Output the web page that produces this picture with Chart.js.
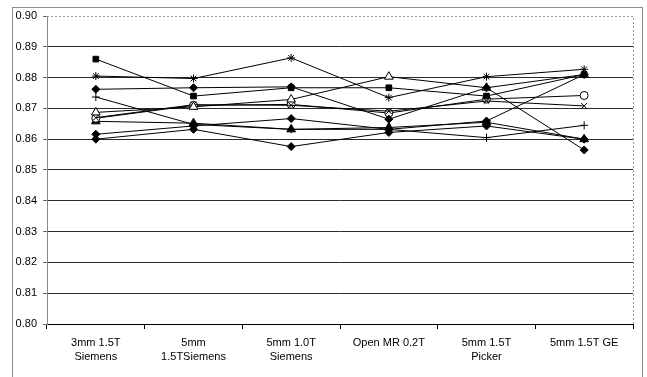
<!DOCTYPE html>
<html>
<head>
<meta charset="utf-8">
<script src="https://cdn.jsdelivr.net/npm/chart.js@4.4.1/dist/chart.umd.min.js"></script>
<style>
  body { margin: 0; background: #fff; }
  #frame { position: absolute; left: 12px; top: 7px; width: 629px; height: 400px; border: 1px solid #8c8c8c; }
  #myChart { position: absolute; left: 0; top: 0; }
</style>
</head>
<body>
<div id="frame"></div>
<canvas id="myChart" width="647" height="377"></canvas>
<script>
// categorias (scanners)
const scanners = [
  ['3mm 1.5T', 'Siemens'],
  ['5mm', '1.5TSiemens'],
  ['5mm 1.0T', 'Siemens'],
  'Open MR 0.2T',
  ['5mm 1.5T', 'Picker'],
  '5mm 1.5T GE'
];

// valores
const diamondA   = [0.8762, 0.8767, 0.8770, 0.8665, 0.8767, 0.8565];
const squareS    = [0.8860, 0.8740, 0.8767, 0.8767, 0.8740, 0.8810];
const triOpen    = [0.8687, 0.8705, 0.8729, 0.8803, 0.8767, 0.8810];
const crossX     = [0.8670, 0.8712, 0.8710, 0.8691, 0.8724, 0.8708];
const starS      = [0.8805, 0.8797, 0.8864, 0.8735, 0.8803, 0.8827];
const circleOpen = [0.8668, 0.8710, 0.8713, 0.8685, 0.8730, 0.8742];
const plusS      = [0.8737, 0.8648, 0.8632, 0.8632, 0.8605, 0.8645];
const triFilled  = [0.8658, 0.8652, 0.8632, 0.8638, 0.8655, 0.8600];
const diamondB   = [0.8616, 0.8643, 0.8667, 0.8632, 0.8659, 0.8810];
const diamondC   = [0.8600, 0.8632, 0.8576, 0.8622, 0.8643, 0.8600];

const yMin = 0.80;
const yMax = 0.90;

function serie(data, style, hollow, radius) {
  return {
    data: data,
    borderColor: '#000',
    borderWidth: 1,
    pointStyle: style,
    pointRadius: radius || 4,
    pointBorderColor: '#000',
    pointBorderWidth: 1,
    pointBackgroundColor: hollow ? '#fff' : '#000',
    fill: false,
    tension: 0
  };
}

// borda pontilhada da area do grafico
const plotBorder = {
  id: 'plotBorder',
  beforeDatasetsDraw(chart) {
    const a = chart.chartArea;
    const c = chart.ctx;
    c.save();
    c.strokeStyle = '#999';
    c.lineWidth = 1;
    c.setLineDash([2, 2]);
    c.beginPath();
    c.moveTo(a.left, Math.round(a.top) + 0.5);
    c.lineTo(Math.round(a.right) + 0.5, Math.round(a.top) + 0.5);
    c.lineTo(Math.round(a.right) + 0.5, a.bottom);
    c.stroke();
    c.restore();
  }
};

let ctx = document.getElementById('myChart');

new Chart(ctx, {
  type: 'line',
  data: {
    labels: scanners,
    datasets: [
      serie(diamondA, 'rectRot', false, 4),
      serie(squareS, 'rect', false, 4),
      serie(triOpen, 'triangle', true, 5),
      serie(crossX, 'crossRot', false, 4),
      serie(starS, 'star', false, 4),
      serie(circleOpen, 'circle', true, 4),
      serie(plusS, 'cross', false, 4),
      serie(triFilled, 'triangle', false, 5),
      serie(diamondB, 'rectRot', false, 4),
      serie(diamondC, 'rectRot', false, 4)
    ]
  },
  options: {
    responsive: false,
    animation: false,
    layout: { padding: { left: 0, right: 14, top: 16, bottom: 0 } },
    plugins: {
      legend: { display: false },
      tooltip: { enabled: false }
    },
    scales: {
      x: {
        offset: true,
        grid: {
          offset: true,
          drawOnChartArea: false,
          drawTicks: true,
          tickLength: 5,
          tickColor: '#000'
        },
        border: { display: true, color: '#000', width: 1 },
        ticks: {
          color: '#000',
          font: { family: 'Liberation Sans, Arial', size: 11, lineHeight: 1.3 },
          padding: 7,
          maxRotation: 0,
          autoSkip: false
        },
        afterFit(s) { s.height = 53; }
      },
      y: {
        min: yMin,
        max: yMax,
        grid: {
          color: (c) => (c.tick && c.tick.value >= yMax - 1e-9) ? 'rgba(0,0,0,0)' : '#2a2a2a',
          tickColor: '#666',
          tickLength: 4,
          lineWidth: 1
        },
        border: { display: true, color: '#888', width: 1 },
        ticks: {
          stepSize: 0.01,
          color: '#000',
          padding: 6,
          font: { family: 'Liberation Sans, Arial', size: 11 },
          callback: (v) => v.toFixed(2)
        },
        afterFit(s) { s.width = 47; }
      }
    }
  },
  plugins: [plotBorder]
});
</script>
</body>
</html>
